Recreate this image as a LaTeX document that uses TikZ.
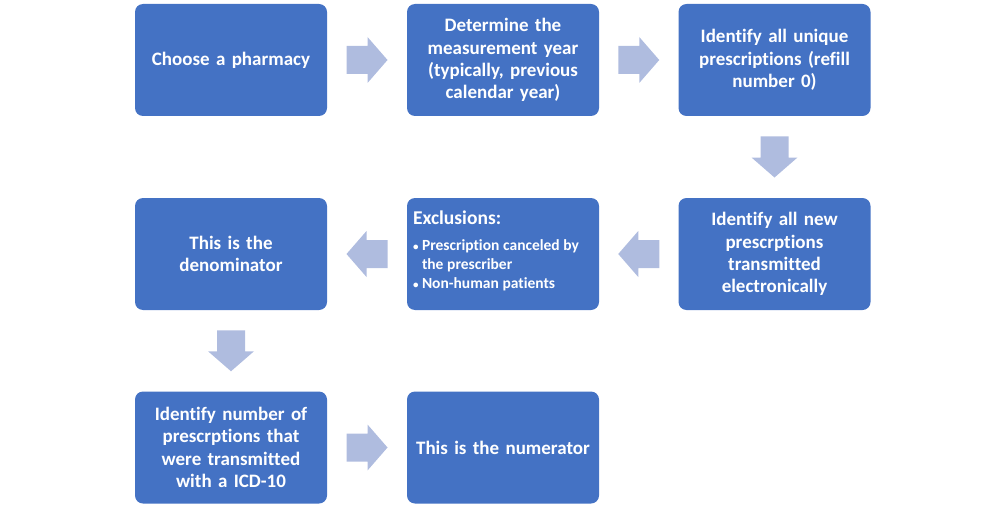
\documentclass[tikz,border=0pt]{standalone}
\usepackage{fontspec}
\setmainfont{Carlito}[Ligatures=NoCommon]
\usetikzlibrary{calc}
\definecolor{boxblue}{HTML}{4472C4}
\definecolor{arrowblue}{RGB}{175,188,223}
\tikzset{
  stepbox/.style={fill=boxblue, rounded corners=8pt, minimum width=192pt, minimum height=112pt,
    text width=182pt, inner sep=5pt, align=center, text=white,
    font=\fontsize{19}{22.3}\selectfont\bfseries},
  arrowfill/.style={fill=arrowblue}
}
\newcommand\blockarr[3]{%
  \fill[arrowfill, shift={($(#1)!0.5!(#2)$)}, rotate=#3]
    (-20.5,-14) -- (0.5,-14) -- (0.5,-23) -- (20.5,0) -- (0.5,23) -- (0.5,14) -- (-20.5,14) -- cycle;}
\newcommand\bulletbox{\leavevmode\hbox to 9pt{\raisebox{0.5pt}{\fontsize{11}{11}\selectfont\textbullet}\hfil}}
\begin{document}
\begin{tikzpicture}[x=1pt,y=1pt]
\useasboundingbox (0,0) rectangle (1006,-508);
\node[stepbox] (a) at (231,-60) {Choose a pharmacy};
\node[stepbox] (b) at (503,-60) {Determine the\\ measurement year\\ (typically, previous\\ calendar year)};
\node[stepbox] (c) at (774.5,-60) {Identify all unique\\ prescriptions (refill\\ number~0)};
\node[stepbox] (d) at (774.5,-254) {Identify all new\\ prescrptions\\ transmitted\\ electronically};
\node[stepbox, align=left, text width=180pt, inner sep=6pt] (e) at (503,-254) {%
  \raggedright{\fontsize{19.5}{21}\selectfont Exclusions:}\par\vspace{7pt}
  {\fontsize{15.5}{19}\selectfont\raggedright\spaceskip=0.24em plus 0.1em minus 0.05em
  \hangindent=9pt\hangafter=1\bulletbox Prescription canceled by\break the prescriber\par
  \bulletbox Non-human patients\par}\vspace{6pt}};
\node[stepbox] (f) at (231,-254) {This is the\\ denominator};
\node[stepbox] (g) at (231,-447.5) {Identify number of\\ prescrptions that\\ were transmitted\\ with a ICD-10};
\node[stepbox] (h) at (503,-447.5) {This is the numerator};
\blockarr{a.east}{b.west}{0}
\blockarr{b.east}{c.west}{0}
\blockarr{c.south}{d.north}{-90}
\blockarr{d.west}{e.east}{180}
\blockarr{e.west}{f.east}{180}
\blockarr{f.south}{g.north}{-90}
\blockarr{g.east}{h.west}{0}
\end{tikzpicture}
\end{document}
